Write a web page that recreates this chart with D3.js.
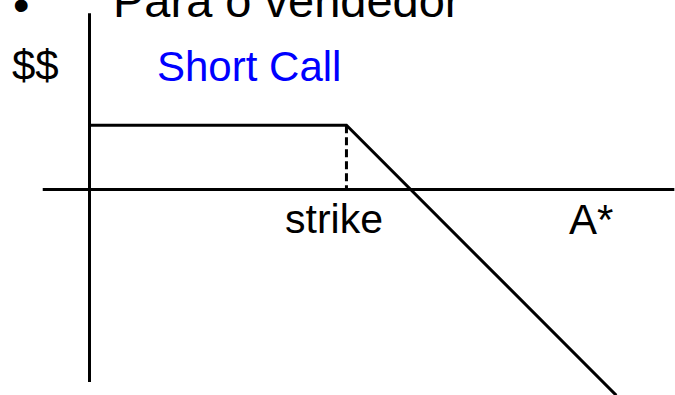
<!DOCTYPE html>
<html>
<head>
<meta charset="utf-8">
<script src="https://cdn.jsdelivr.net/npm/d3@7"></script>
<style>
  html, body { margin: 0; padding: 0; background: #fff; }
  svg { display: block; font-family: "Liberation Sans", Arial, sans-serif; }
</style>
</head>
<body>
<div id="chart"></div>
<script>
// payoff of a short call, seen by the seller
var spot = [0, 50, 102.5];          // asset price A*
var payoff = [12.5, 12.5, -40];     // premium kept, then loss beyond the strike
var strike = 50;
var xExtent = [-9.1, 113.8];        // horizontal axis reach
var yExtent = [-37.4, 34.3];        // vertical axis reach

var width = 675, height = 395;

var svg = d3.select("#chart").append("svg")
	.attr("width", width)
	.attr("height", height);

var x = d3.scaleLinear().domain([0, 115]).range([89.5, 680.5]);
var y = d3.scaleLinear().domain([-40, 12.5]).range([395.3, 125.3]);

// axes
svg.append("line")
	.attr("x1", x(0)).attr("x2", x(0))
	.attr("y1", y(yExtent[1])).attr("y2", y(yExtent[0]))
	.attr("stroke", "#000").attr("stroke-width", 3);

svg.append("line")
	.attr("x1", x(xExtent[0])).attr("x2", x(xExtent[1]))
	.attr("y1", y(0)).attr("y2", y(0))
	.attr("stroke", "#000").attr("stroke-width", 3);

// dashed drop at the strike
svg.append("line")
	.attr("x1", x(strike)).attr("x2", x(strike))
	.attr("y1", y(payoff[1])).attr("y2", y(0))
	.attr("stroke", "#000").attr("stroke-width", 3)
	.attr("stroke-dasharray", "8,4");

// payoff line
var line = d3.line()
	.x(function(d, i) { return x(spot[i]); })
	.y(function(d) { return y(d); });

svg.append("path")
	.datum(payoff)
	.attr("d", line)
	.attr("fill", "none")
	.attr("stroke", "#000")
	.attr("stroke-width", 3);

// texts
svg.append("text").attr("x", 13).attr("y", 21)
	.style("font-size", "47px").text("\u2022");
svg.append("text").attr("x", 113).attr("y", 17)
	.style("font-size", "47px").text("Para o vendedor");
svg.append("text").attr("x", 12).attr("y", 80)
	.style("font-size", "42px").text("$$");
svg.append("text").attr("x", 157).attr("y", 81)
	.style("font-size", "42px").attr("fill", "#0000ff").text("Short Call");
svg.append("text").attr("x", 334).attr("y", 233)
	.attr("text-anchor", "middle")
	.style("font-size", "41px").text("strike");
svg.append("text").attr("x", 569).attr("y", 234)
	.style("font-size", "42px").text("A*");
</script>
</body>
</html>
